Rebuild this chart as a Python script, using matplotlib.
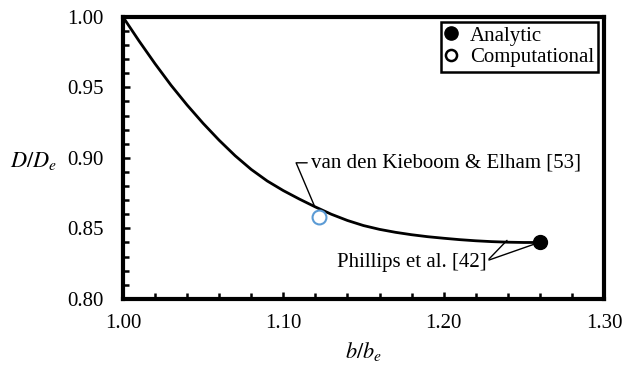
import numpy as np
import matplotlib
matplotlib.use("Agg")
import matplotlib.pyplot as plt
from matplotlib.lines import Line2D
from matplotlib.ticker import MultipleLocator, FormatStrFormatter

plt.rcParams['font.family'] = ['Liberation Serif', 'DejaVu Serif']
plt.rcParams['mathtext.fontset'] = 'stix'

# analytic drag ratio vs span ratio
b_ratio = [1.00, 1.01, 1.02, 1.03, 1.04, 1.05, 1.06, 1.07, 1.08, 1.09,
           1.10, 1.11, 1.12, 1.13, 1.14, 1.15, 1.16, 1.17, 1.18, 1.19,
           1.20, 1.21, 1.22, 1.23, 1.24, 1.25, 1.26]
D_ratio = [1.0000, 0.9830, 0.9668, 0.9515, 0.9375, 0.9245, 0.9125, 0.9015, 0.8918, 0.8836,
           0.8768, 0.8708, 0.8652, 0.8600, 0.8556, 0.8520, 0.8493, 0.8472, 0.8455, 0.8441,
           0.8430, 0.8420, 0.8412, 0.8406, 0.8402, 0.8400, 0.8400]

# Phillips et al. optimum (analytic)
analytic_b = [1.26]
analytic_D = [0.84]

# van den Kieboom & Elham (computational)
comp_b = [1.122]
comp_D = [0.858]

fs = 15

fig = plt.figure(figsize=(6.24, 3.75), dpi=100)
ax = fig.add_axes([0.197, 0.203, 0.771, 0.752])

ax.plot(b_ratio, D_ratio, color='black', lw=2.0, solid_capstyle='round', zorder=3)
ax.plot(analytic_b, analytic_D, 'o', color='black', ms=10, zorder=4)
ax.plot(comp_b, comp_D, 'o', mfc='white', mec='#5B9BD5', mew=1.5, ms=10, zorder=4)

ax.set_xlim(1.0, 1.3)
ax.set_ylim(0.8, 1.0)
ax.xaxis.set_major_locator(MultipleLocator(0.1))
ax.xaxis.set_minor_locator(MultipleLocator(0.02))
ax.yaxis.set_major_locator(MultipleLocator(0.05))
ax.yaxis.set_minor_locator(MultipleLocator(0.01))
ax.xaxis.set_major_formatter(FormatStrFormatter('%.2f'))
ax.yaxis.set_major_formatter(FormatStrFormatter('%.2f'))

for s in ax.spines.values():
    s.set_linewidth(3.0)
ax.tick_params(which='both', direction='in', top=False, right=False, width=1.8, labelsize=fs)
ax.tick_params(which='major', length=5)
ax.tick_params(which='minor', length=4)
ax.tick_params(axis='y', which='major', pad=14)
ax.tick_params(axis='x', which='major', pad=11)

ax.set_xlabel(r'$b/b_e$', fontsize=16, labelpad=5)
ax.set_ylabel(r'$D/D_e$', fontsize=16, rotation=0, ha='center', va='center')
ax.yaxis.set_label_coords(-0.185, 0.49)

# literature labels with leader lines
ax.annotate('van den Kieboom & Elham [53]', xy=(1.1196, 0.8654),
            xytext=(1.1175, 0.8965), fontsize=fs, ha='left', va='center',
            arrowprops=dict(arrowstyle='-', color='black', lw=1.0, shrinkA=1, shrinkB=0,
                            relpos=(0, 0.5), connectionstyle='angle,angleA=0,angleB=113,rad=0'))
ax.annotate('Phillips et al. [42]', xy=(1.2395, 0.8415),
            xytext=(1.2265, 0.8255), fontsize=fs, ha='right', va='center',
            arrowprops=dict(arrowstyle='-', color='black', lw=1.0, shrinkA=0, shrinkB=0,
                            relpos=(1, 0.55)))
ax.annotate('Phillips et al. [42]', xy=(analytic_b[0] - 0.003, analytic_D[0] - 0.001),
            xytext=(1.2265, 0.8255), fontsize=fs, ha='right', va='center', alpha=0,
            arrowprops=dict(arrowstyle='-', color='black', lw=1.0, shrinkA=0, shrinkB=0,
                            relpos=(1, 0.6), alpha=1))

handles = [Line2D([], [], ls='none', marker='o', color='black', ms=9.5),
           Line2D([], [], ls='none', marker='o', mfc='white', mec='black', mew=1.8, ms=8)]
leg = ax.legend(handles, ['Analytic', 'Computational'], loc='upper right',
                bbox_to_anchor=(0.9875, 0.982), fontsize=fs, fancybox=False, framealpha=1,
                edgecolor='black', handlelength=0.6, handletextpad=0.6, borderpad=0.2,
                labelspacing=0.1, borderaxespad=0)
leg.get_frame().set_linewidth(1.8)

fig.savefig('out.png', dpi=100)
